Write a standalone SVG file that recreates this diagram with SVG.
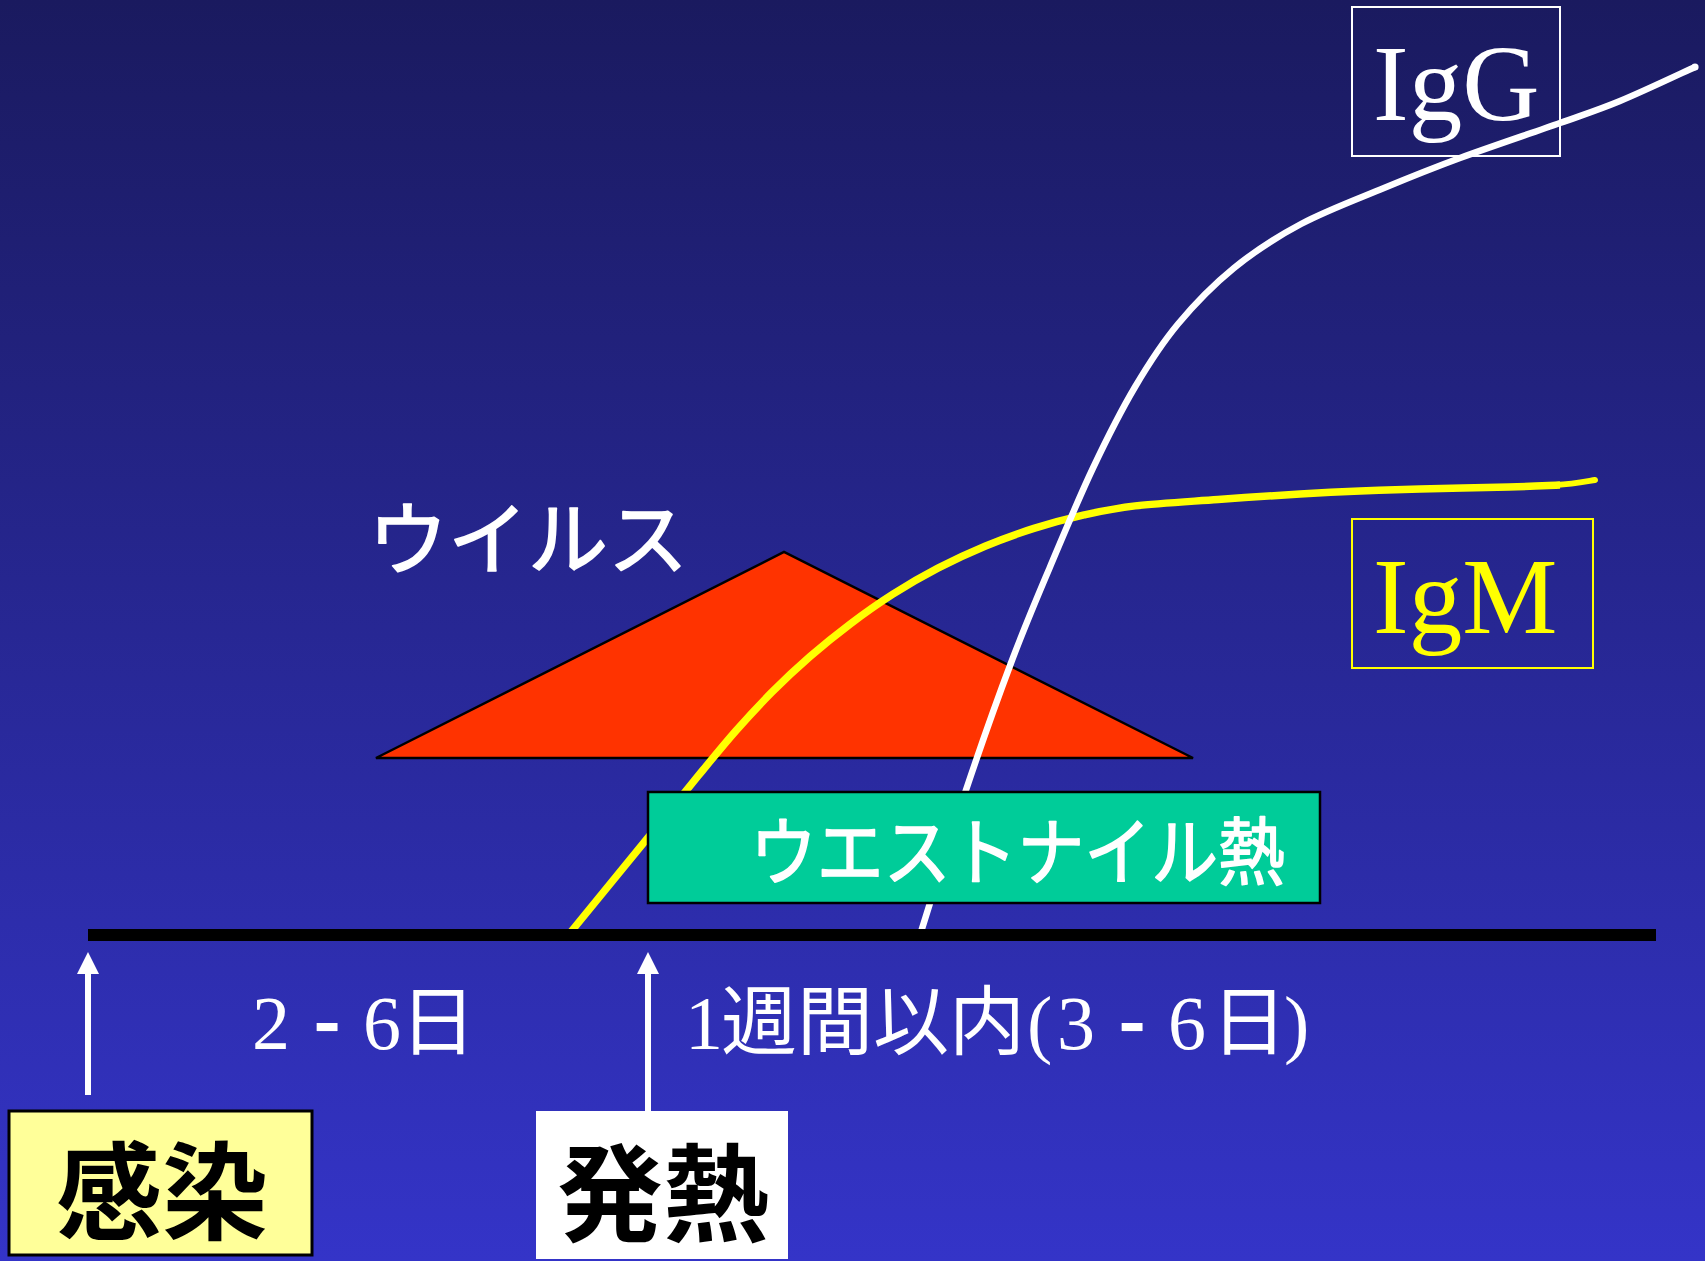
<svg xmlns="http://www.w3.org/2000/svg" width="1705" height="1261" viewBox="0 0 1705 1261">
  <defs>
    <linearGradient id="bg" x1="0" y1="0" x2="0" y2="1">
      <stop offset="0" stop-color="#1a1a5f"/>
      <stop offset="1" stop-color="#3434c8"/>
    </linearGradient>
    <marker id="ah" viewBox="0 0 24 24" markerWidth="24" markerHeight="24" refX="2" refY="12" orient="auto" markerUnits="userSpaceOnUse">
      <path d="M0,1 L22,12 L0,23 z" fill="#ffffff"/>
    </marker>
    <style>
      .serif { font-family: "Liberation Serif", "Noto Sans CJK JP", serif; }
      .jp { font-family: "Noto Sans CJK JP", "Liberation Sans", sans-serif; }
      .wt { fill: #ffffff; }
      .heavy { stroke: #ffffff; stroke-width: 1.6; stroke-linejoin: round; }
      .curve { fill: none; stroke-linejoin: round; }
      .arrow { stroke: #ffffff; stroke-width: 6; fill: none; marker-end: url(#ah); }
    </style>
  </defs>

  <rect x="0" y="0" width="1705" height="1261" fill="url(#bg)"/>

  <g id="virus">
    <polygon points="376,758 784,552 1193,758" fill="#ff3300" stroke="#000000" stroke-width="2.5" stroke-linejoin="miter"/>
    <text class="jp wt heavy" x="368" y="568" font-size="80">ウイルス</text>
  </g>

  <g id="curves">
    <path id="igm-curve" class="curve" stroke="#ffff00" stroke-width="7.5" stroke-linecap="butt"
      d="M570,933 L670.2,810.3 C681.1,796.9 692,783.4 703,770 C714,756.6 724.9,743.2 736.4,730.2 C747.9,717.2 759.7,704.5 771.9,692.2 C784.2,679.9 796.8,668.1 809.9,656.7 C823,645.3 836.5,634.4 850.3,624 C864.1,613.6 878.3,603.5 892.9,594.2 C907.5,584.9 922.5,576.2 937.9,568.2 C953.3,560.2 969,552.8 985,546.2 C1001,539.6 1017.4,533.6 1033.9,528.4 C1050.4,523.2 1067.2,518.7 1084.1,514.9 C1101,511.2 1113,508.5 1135.3,505.9 C1157.6,503.3 1190.6,501.5 1218,499.5 C1245.5,497.5 1276.3,495.4 1300,494 C1323.7,492.6 1340,491.8 1360,491 C1380,490.2 1395.2,489.7 1420,489 C1444.8,488.3 1485.7,487.7 1509,487 C1532.3,486.3 1551.5,485.3 1560,485"/>
    <path class="curve" stroke="#ffff00" stroke-width="6" stroke-linecap="round" d="M1556,485 C1574.3,483.8 1589.2,480.8 1595,480"/>
    <path id="igg-curve" class="curve" stroke="#ffffff" stroke-width="6.5" stroke-linecap="butt"
      d="M920,935 C927.7,910.8 950.8,835.3 966,790 C981.2,744.7 997,700.2 1011,663 C1025,625.8 1036.3,599.5 1050,567 C1063.7,534.5 1078.8,498 1093,468 C1107.2,438 1120.8,411 1135,387 C1149.2,363 1161.5,343.8 1178,324 C1194.5,304.2 1213.5,284.7 1234,268 C1254.5,251.3 1276,237.3 1301,224 C1326,210.7 1357.5,199 1384,188 C1410.5,177 1430.7,168.8 1460,158 C1489.3,147.2 1533.3,132.5 1560,123 C1586.7,113.5 1597.5,110.3 1620,101 C1642.5,91.7 1682.5,72.7 1695,67"/>
    <circle cx="1695" cy="67" r="3.6" fill="#ffffff"/>
  </g>

  <g id="west-nile-fever">
    <rect x="648" y="792" width="672" height="111" fill="#00cc99" stroke="#000000" stroke-width="2.5"/>
    <text class="jp wt heavy" x="750" y="879" font-size="74" textLength="535" lengthAdjust="spacingAndGlyphs">ウエストナイル熱</text>
  </g>

  <g id="timeline">
    <line x1="88" y1="935" x2="1656" y2="935" stroke="#000000" stroke-width="12"/>
  </g>

  <g id="igg-label">
    <rect x="1352" y="7" width="208" height="149" fill="none" stroke="#ffffff" stroke-width="2"/>
    <text class="serif wt" x="1373" y="120" font-size="107">IgG</text>
  </g>

  <g id="igm-label">
    <rect x="1352" y="519" width="241" height="149" fill="none" stroke="#ffff00" stroke-width="2"/>
    <text class="serif" x="1373" y="633" font-size="107" fill="#ffff00">IgM</text>
  </g>

  <g id="connectors">
    <line class="arrow" x1="88" y1="1095" x2="88" y2="972"/>
    <line class="arrow" x1="648" y1="1112" x2="648" y2="972"/>
  </g>

  <g id="incubation-label">
    <text class="wt" font-size="76" y="1049"><tspan class="serif" x="252">2</tspan><tspan class="jp" x="313" font-weight="bold">-</tspan><tspan class="serif" x="363">6</tspan><tspan class="jp" x="400">日</tspan></text>
  </g>

  <g id="duration-label">
    <text class="wt" font-size="76" y="1049"><tspan class="serif" x="685">1</tspan><tspan class="jp" x="721">週間以内</tspan><tspan class="serif" x="1027">(</tspan><tspan class="serif" x="1057">3</tspan><tspan class="jp" x="1118" font-weight="bold">-</tspan><tspan class="serif" x="1168">6</tspan><tspan class="jp" x="1211">日</tspan><tspan class="serif" x="1284">)</tspan></text>
  </g>

  <g id="infection">
    <rect x="9" y="1111" width="303" height="144" fill="#ffff99" stroke="#000000" stroke-width="3"/>
    <text class="jp" x="56" y="1231" font-size="106" font-weight="bold" fill="#000000">感染</text>
  </g>

  <g id="fever">
    <rect x="536" y="1111" width="252" height="148" fill="#ffffff"/>
    <text class="jp" x="557" y="1233" font-size="106" font-weight="bold" fill="#000000">発熱</text>
  </g>
</svg>
